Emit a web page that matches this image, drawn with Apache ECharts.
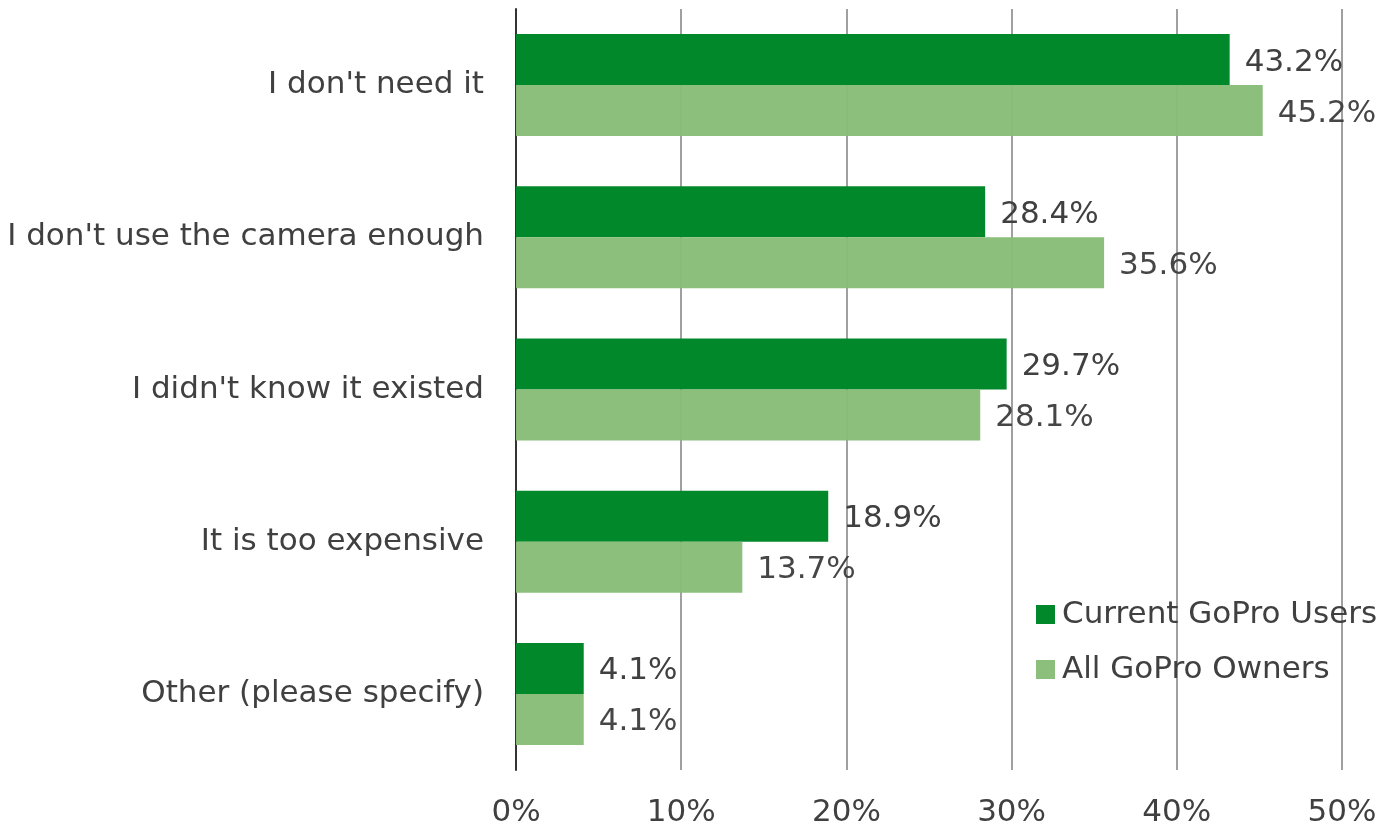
<!DOCTYPE html>
<html><head><meta charset="utf-8">
<script src="https://cdn.jsdelivr.net/npm/echarts@6/dist/echarts.min.js"></script>
<style>html,body{margin:0;padding:0;background:#fff}#c{width:1397px;height:833px}</style>
</head><body><div id="c"></div>
<script>
const categories = ["I don't need it", "I don't use the camera enough", "I didn't know it existed", "It is too expensive", "Other (please specify)"];
const currentUsers = [43.2, 28.4, 29.7, 18.9, 4.1];
const allOwners = [45.2, 35.6, 28.1, 13.7, 4.1];
const seriesNames = ["Current GoPro Users", "All GoPro Owners"];
const xTicks = [0, 10, 20, 30, 40, 50];

const FONT = "DejaVu Sans";
const TXT = "#404040";
const FS = 31;
const chart = echarts.init(document.getElementById('c'), null, {renderer: 'canvas'});
const labelCfg = {show: true, position: 'right', distance: 15, offset: [0, 3], color: TXT, fontFamily: FONT, fontSize: FS, formatter: p => p.value.toFixed(1) + '%'};
chart.setOption({
  animation: false,
  textStyle: {fontFamily: FONT},
  grid: {left: 516, right: 55, top: 9, bottom: 63, containLabel: false},
  legend: {
    orient: 'vertical', left: 1031, top: 594, itemWidth: 19, itemHeight: 19, itemGap: 24,
    icon: 'rect',
    textStyle: {color: TXT, fontFamily: FONT, fontSize: FS, padding: [0, 0, 0, 2]},
    data: seriesNames
  },
  xAxis: {
    type: 'value', min: xTicks[0], max: xTicks[xTicks.length - 1], interval: 10,
    axisLine: {show: false}, axisTick: {show: false},
    splitLine: {show: true, lineStyle: {color: '#a0a0a0', width: 2}},
    axisLabel: {color: TXT, fontFamily: FONT, fontSize: FS, margin: 27, formatter: v => v + '%'}
  },
  yAxis: {
    type: 'category', inverse: true, data: categories,
    axisLine: {show: true, lineStyle: {color: '#333', width: 2}},
    axisTick: {show: false},
    axisLabel: {color: TXT, fontFamily: FONT, fontSize: FS, margin: 32, padding: [6, 0, 0, 0]}
  },
  series: [
    {name: seriesNames[0], type: 'bar', data: currentUsers, barGap: '0%', barCategoryGap: '33%',
     itemStyle: {color: '#00882B'}, label: labelCfg},
    {name: seriesNames[1], type: 'bar', data: allOwners, barGap: '0%', barCategoryGap: '33%',
     itemStyle: {color: '#88BC78', opacity: 0.97}, label: labelCfg}
  ]
});
</script></body></html>
